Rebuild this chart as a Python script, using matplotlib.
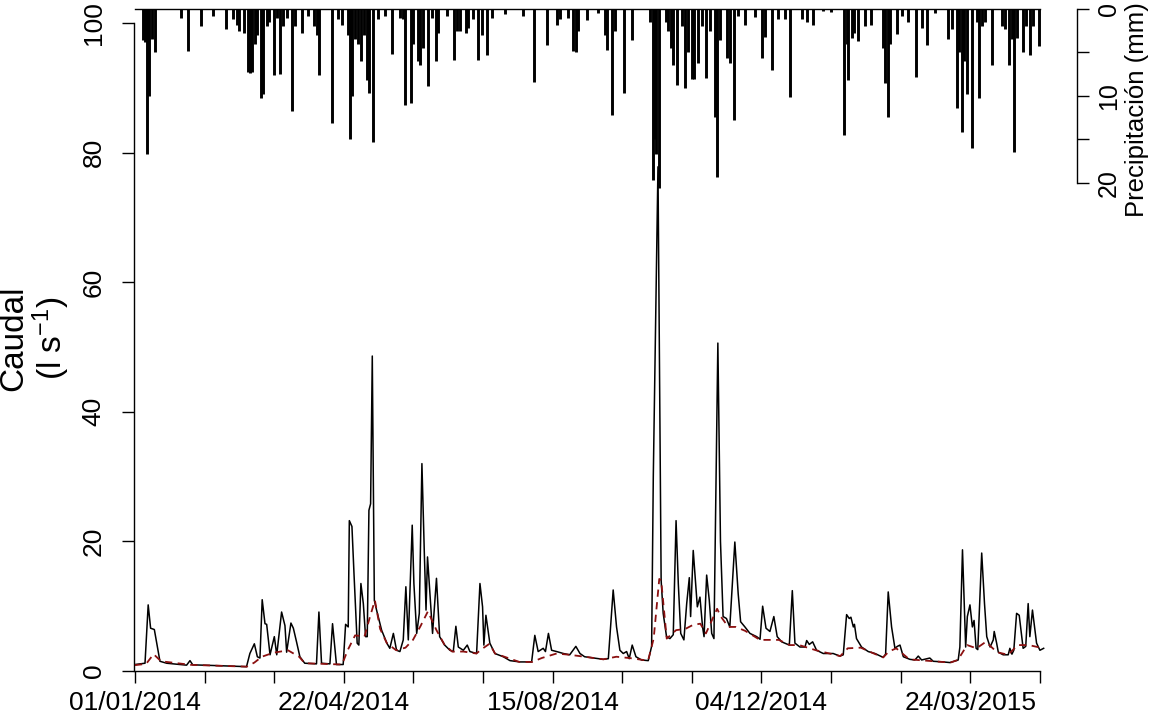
import numpy as np
import matplotlib
matplotlib.use("Agg")
import matplotlib.pyplot as plt

plt.rcParams['font.family'] = ['Liberation Sans', 'DejaVu Sans']
plt.rcParams['mathtext.default'] = 'regular'

# days since 01/01/2014
q_day = [0, 5.4, 7.1, 8.4, 10.4, 12, 13.4, 17, 27.7, 29.5, 31, 42, 59.8, 61.6, 64, 65.6, 67, 68.2, 69.7, 70.6,
         72.4, 74.7, 76, 78.6, 80.4, 81.3, 83.6, 84.9, 86.6, 88.4, 91, 97.3, 98.6, 100, 104.5, 105.9, 108, 111.6,
         112.9, 114.3, 114.9, 116.3, 117.4, 119.1, 120, 121.1, 122.4, 123.6, 124.5, 125.4, 126.3, 127.2, 128.3,
         129.5, 132.2, 135, 136.6, 138.5, 140.2, 142, 143.8, 145.2, 146.5, 148.6, 149.5, 151, 152.4, 153.8, 155.1,
         156, 156.8, 158.1, 159.5, 161.6, 163.3, 166, 168.8, 170.6, 172, 173.3, 176, 178.1, 179.5, 183.1, 184.9,
         186.3, 187, 188.1, 190.2, 192.9, 197.4, 201, 206.3, 212.6, 214.3, 216.1, 218.8, 220, 221.6, 223.3, 226,
         229.6, 233, 236.3, 238.5, 241, 251, 253.7, 256.3, 258.1, 259.9, 261.7, 263.5, 264.9, 266.5, 268.5, 271.5,
         275.1, 276.9, 277.8, 280.3, 282, 283.1, 284.9, 286.7, 288.5, 290, 291.2, 292.5, 294.2, 295.7, 297.1,
         297.8, 299.2, 300.1, 301.4, 302.8, 304.2, 305, 306.4, 307.8, 309.1, 310.3, 312.4, 313.8, 315.2, 317,
         318.8, 321.5, 323.3, 324.6, 326.9, 329.6, 333.2, 335, 336.4, 338.2, 340.3, 342.4, 344.2, 346.6, 350.7,
         352.3, 353.7, 356.4, 359.1, 360, 361.4, 363.2, 365.3, 368.9, 374.2, 377.8, 379.6, 381.4, 382.8, 383.7,
         385, 385.6, 386.7, 389.4, 393, 396.6, 401, 402.3, 403.7, 405.5, 407.3, 408.6, 410, 411.8, 415.3, 418,
         419.8, 421.6, 426, 427.8, 433.2, 436.8, 441.2, 442.1, 443.5, 445.2, 446.1, 447.5, 448.8, 449.7, 450.8,
         451.7, 453.8, 455.3, 456.5, 458.3, 460, 460.5, 461.8, 462.7, 465.3, 468, 468.9, 470, 471, 472.5, 473.9,
         476, 477.4, 478.7, 479.6, 481, 483.2, 485, 487]
q_val = [1.0, 1.2, 10.2, 6.6, 6.4, 3.8, 1.5, 1.2, 0.9, 1.6, 0.95, 0.85, 0.67, 2.7, 4.2, 2.2, 2.0, 11.0, 7.3, 7.2,
         2.5, 5.3, 2.5, 9.1, 7.0, 2.9, 7.4, 6.6, 4.5, 2.2, 1.2, 1.1, 9.1, 1.2, 1.1, 7.3, 1.0, 1.0,
         7.2, 6.8, 23.2, 22.3, 15.0, 4.3, 4.0, 13.5, 10.4, 5.3, 5.3, 24.8, 25.8, 48.6, 10.9,
         9.4, 6.3, 4.3, 3.5, 5.8, 3.2, 3.0, 4.8, 13.0, 4.8, 22.5, 13.5, 5.8, 8.9, 32.0, 18.1,
         9.4, 17.6, 11.9, 5.8, 14.3, 5.3, 4.0, 3.2, 3.0, 6.9, 3.7, 3.2, 4.0, 3.0, 2.7, 13.5,
         9.9, 4.0, 8.6, 4.3, 2.7, 2.2, 1.6, 1.4, 1.4, 5.5, 3.0, 3.5, 3.0, 5.8, 3.2, 3.0,
         2.7, 2.5, 3.8, 2.7, 2.2, 1.8, 1.9, 12.5, 6.8, 3.2, 2.7, 3.0, 1.9, 4.0, 2.2, 1.7,
         1.6, 3.8, 30.0, 77.8, 14.0, 8.9, 5.3, 5.0, 5.6, 23.2, 13.5, 5.8, 4.8, 10.4, 14.4,
         8.4, 18.6, 15.0, 9.9, 11.4, 6.8, 5.3, 14.8, 10.9, 5.8, 5.0, 50.6, 20.0, 8.4, 8.1,
         6.8, 19.9, 11.9, 7.6, 6.8, 5.8, 5.3, 4.9, 10.0, 6.6, 6.1, 8.4, 5.3, 4.5, 4.0,
         12.4, 4.3, 3.7, 3.7, 4.7, 4.1, 4.5, 3.2, 2.7, 2.7, 2.3, 2.5, 8.7, 8.1, 8.3,
         6.8, 7.2, 5.0, 3.7, 3.0, 2.7, 2.1, 2.6, 12.2, 6.8, 3.5, 3.8, 4.0, 2.2, 1.8, 1.7,
         2.3, 1.7, 2.0, 1.5, 1.4, 1.3, 1.7, 3.7, 18.7, 3.7, 8.4, 10.2, 6.8, 7.8, 3.5,
         3.3, 18.2, 10.4, 5.3, 3.7, 4.8, 6.1, 4.3, 2.9, 2.5, 2.5, 3.5, 2.6, 3.2, 8.9, 8.6,
         3.5, 3.8, 10.4, 5.3, 9.4, 4.3, 3.2, 3.5]

b_day = [0, 6, 10, 14, 30, 60, 64, 68, 74, 82, 88, 91, 111, 114, 118, 123, 126, 128.6, 131.4, 135, 140, 145,
         149, 153, 157, 161.6, 166, 170, 176, 183, 186, 190, 193, 206, 213, 218, 226, 233, 241, 251, 258, 265,
         275, 278, 281, 282, 285, 290, 295, 299, 303, 306, 312, 314, 318, 322, 327, 335, 345, 351, 356, 365,
         378, 382, 389, 396, 401, 404, 408, 415, 437, 441, 446, 451, 456, 462, 468, 473, 479, 487]
b_val = [0.9, 1.1, 2.6, 1.5, 0.95, 0.67, 1.3, 2.2, 2.8, 3.2, 2.2, 1.2, 1.0, 3.2, 5.5, 5.3, 8.4, 10.9, 6.5, 4.3,
         3.2, 3.6, 4.8, 6.9, 9.2, 6.3, 4.0, 3.0, 3.0, 2.7, 3.4, 4.2, 2.7, 1.4, 1.4, 2.0, 2.7, 2.5, 2.2, 1.8,
         2.2, 2.0, 1.6, 5.0, 14.2, 14.0, 5.0, 6.3, 6.5, 7.1, 7.3, 5.8, 9.6, 8.4, 6.8, 6.8, 6.2, 4.8, 4.8, 4.0,
         4.0, 3.2, 2.3, 3.5, 3.6, 2.7, 2.1, 3.0, 3.5, 1.8, 1.3, 1.7, 4.0, 3.5, 4.5, 2.9, 2.5, 4.0, 4.0, 3.5]

p_day = [4.5, 5.4, 6.3, 7.7, 8.9, 10.7, 24.7, 28.6, 35.2, 42, 48.8, 52.3, 54.5, 55.7, 58.4, 60.4, 61.6, 62.9,
         64.3, 65.6, 67.4, 68.8, 70.6, 72, 74.5, 75.9, 77.7, 79.5, 81.3, 84, 85.7, 89.3, 92.9, 96.1, 97.4, 98.8,
         105.4, 109, 110.8, 114.3, 115.2, 116.5, 117.9, 119.7, 121.1, 122.7, 124.2, 125.4, 127.4, 130.4, 134,
         137.6, 142, 143.5, 144.7, 147.7, 149.2, 151.8, 152.7, 154.2, 156.8, 159, 161.1, 162.6, 167, 171.1,
         172.7, 174.2, 177.4, 178.6, 181.3, 184, 185.8, 188.5, 191.2, 198.3, 208.1, 213.8, 220.6, 226.3, 227.8,
         232.2, 234.9, 236.3, 237.6, 242.1, 248.3, 251.9, 253.1, 255.5, 257.2, 262, 266.5, 276, 277.4, 278.5,
         279.5, 280.8, 284.6, 285.8, 287.1, 288.5, 290.6, 293, 294.7, 296.5, 298.3, 299.7, 301.9, 303.7, 305.8,
         308.1, 310.8, 312.1, 313.5, 317.1, 318.9, 321.2, 323.4, 327, 332.3, 335.9, 337.6, 341.5, 344.8, 348.3,
         351, 357.3, 360, 363.2, 368.9, 373.3, 380.1, 381.4, 382.3, 384.1, 385.3, 387.6, 391.2, 394.3, 401,
         402.1, 403.4, 404.6, 408.5, 410.9, 414.4, 418.5, 421.6, 424.6, 428.7, 435.8, 437.7, 440.7, 441.8, 443,
         444.3, 445.7, 448.4, 451.1, 452.3, 453.7, 455.5, 459.4, 464.5, 466.2, 468.5, 470, 471.2, 472.5, 476,
         477.5, 479.6, 481.4, 484.3]
p_mm = [3.6, 3.8, 16.7, 10, 3.5, 5, 1.1, 4.8, 2, 0.8, 2.3, 1.2, 1.8, 2.5, 2.8, 7.2, 7.4, 7.2,
        4, 3, 10.2, 9.8, 2, 1.5, 7.6, 1, 7.5, 2, 1, 11.7, 2, 2.8, 0.8, 2, 3, 7.6,
        13.1, 1.2, 1.8, 3, 15, 10, 3.5, 4, 6, 3, 8.2, 9.7, 15.3, 1.2, 0.8,
        5.2, 1, 1.2, 11, 10.8, 4, 6, 6.4, 4.5, 8.9, 1, 6, 2.8, 0.8, 5.9,
        2.5, 2.5, 2.8, 2.2, 1.2, 5.9, 3, 5.3, 1, 0.6, 0.8, 8.4, 4.1, 1.8, 1.2,
        1.0, 4.8, 5, 2.5, 1.3, 0.5, 3, 4.7, 12.2, 2.5, 9.7, 3.6, 1.5, 19.7, 15,
        16.7, 20.6, 1.5, 2.5, 4.5, 6.5, 8.7, 2, 9.1, 5, 8.1, 8.1, 6.2, 2, 8,
        2.5, 12.4, 19.3, 3.6, 5.7, 6.2, 12.8, 0.8, 1.8, 0.9, 5.7, 3.2, 7, 1.2, 1.2,
        10.1, 1.2, 1.5, 1.8, 0.3, 0.4, 14.5, 4, 8.2, 3.3, 2.8, 3.7, 2, 1.8, 4.5,
        8.5, 12.4, 4, 2.9, 0.8, 1.5, 7.8, 2.2, 4.1, 0.5, 3.5, 2.3, 11.4, 5, 14.1,
        6, 9.8, 16, 1.5, 10.3, 2, 1.5, 6.4, 2, 2.3, 6.4, 3.5, 16.5, 3.3, 5,
        2, 5.3, 2, 4.3]

tick_labels = ["01/01/2014", "", "", "22/04/2014", "", "", "15/08/2014", "", "",
               "04/12/2014", "", "", "24/03/2015", ""]

fig = plt.figure(figsize=(11.49, 7.2), dpi=100)
ax = fig.add_axes([134 / 1149, 49 / 720, 916 / 1149, 663 / 720])
ax.patch.set_alpha(0)

ax.plot(q_day, q_val, color='black', lw=1.1, zorder=3)
ax.plot(b_day, b_val, color='#8b1010', lw=1.3, ls=(0, (4, 3)), zorder=4)
ax.set_xlim(-0.5, 490.4)
ax.set_ylim(0, 102.3)

ax.spines['top'].set_visible(False)
ax.spines['right'].set_visible(False)
ax.spines['left'].set_bounds(0, 100)
ax.spines['bottom'].set_bounds(0, 485)
for s in ['left', 'bottom']:
    ax.spines[s].set_linewidth(1.0)

ax.set_xticks(np.linspace(0, 485, 14))
ax.set_xticklabels(tick_labels)
ax.set_yticks([0, 20, 40, 60, 80, 100])
ax.tick_params(axis='x', length=8.5, width=1.0, labelsize=19, pad=6)
ax.tick_params(axis='y', length=8.5, width=1.0, labelsize=19, pad=12, labelrotation=90)
for t in ax.get_yticklabels():
    t.set_va('center')
    t.set_ha('right')

fig.text(35 / 1149, 1 - 338 / 720, "Caudal\n(l s$^{-1}$)", rotation=90, ha='center', va='center',
         fontsize=24, linespacing=1.05, multialignment='center')

# precipitation, hanging from the top
ax2 = ax.twinx()
ax2.vlines(p_day, 0, p_mm, color='black', lw=2.1)
ax2.plot([0, 485], [0, 0], color='black', lw=1.0)
ax2.set_ylim(76.1, -0.1)
for s in ['top', 'left', 'bottom']:
    ax2.spines[s].set_visible(False)
ax2.spines['right'].set_position(('axes', 943 / 916))
ax2.spines['right'].set_bounds(0, 20)
ax2.spines['right'].set_linewidth(1.0)
ax2.set_yticks([0, 5, 10, 15, 20])
ax2.set_yticklabels(['0', '', '10', '', '20'])
ax2.tick_params(axis='y', length=8.5, width=1.0, labelsize=18, pad=6, labelrotation=90)
for t in ax2.get_yticklabels():
    t.set_va('center')
    t.set_ha('left')
fig.text(1137 / 1149, 1 - 110 / 720, "Precipitación (mm)", rotation=90, ha='center', va='center',
         fontsize=18.5)

fig.savefig("out.png", dpi=100)
